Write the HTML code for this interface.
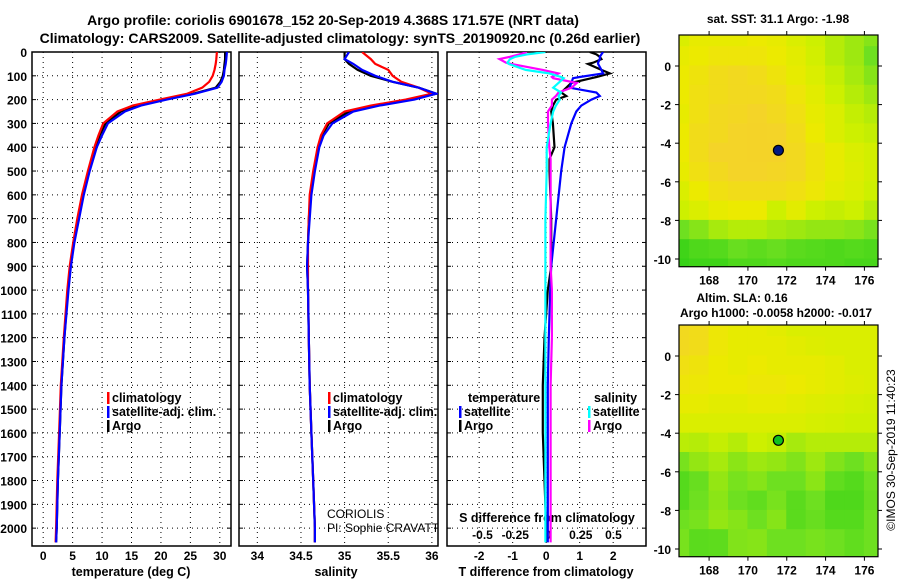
<!DOCTYPE html>
<html><head><meta charset="utf-8"><style>
html,body{margin:0;padding:0;background:#fff;}
svg{display:block;font-family:"Liberation Sans",Arial,sans-serif;}
.b{font-weight:bold;}
</style></head><body>
<svg id="fig" width="900" height="580" viewBox="0 0 900 580" xmlns="http://www.w3.org/2000/svg">
<rect width="900" height="580" fill="#fff"/>
<text class="b" x="333" y="25" font-size="14" text-anchor="middle">Argo profile: coriolis 6901678_152 20-Sep-2019 4.368S 171.57E (NRT data)</text>
<text class="b" x="340" y="43" font-size="14" text-anchor="middle">Climatology: CARS2009. Satellite-adjusted climatology: synTS_20190920.nc (0.26d earlier)</text>
<g id="g"></g>
</svg>
<script>
// ---- data ----
const depths = [0,30,50,75,100,125,150,175,200,225,250,300,350,400,500,600,700,800,900,1000,1200,1400,1600,1800,2000,2060];
const tempArgo = [30.9,30.9,30.8,30.7,30.5,30.1,29.3,25.5,20.5,16,13.2,10.6,9.6,8.8,7.7,6.7,5.9,5.2,4.6,4.2,3.6,3.1,2.8,2.5,2.3,2.2];
const tempClim = [29.5,29.4,29.3,29.1,28.8,28.2,27.0,24.5,19.8,15.2,12.6,10.2,9.4,8.7,7.6,6.6,5.8,5.1,4.5,4.1,3.5,3.0,2.7,2.4,2.2,2.1];
const tempSat  = [31.2,31.1,31.0,30.8,30.7,30.3,29.6,25.8,21.0,16.6,13.9,11.0,10.0,9.1,7.9,6.9,6.1,5.3,4.7,4.3,3.6,3.1,2.8,2.5,2.3,2.2];
const salArgo = [35.0,35.0,35.05,35.15,35.3,35.55,35.85,36.05,35.75,35.35,35.05,34.82,34.74,34.7,34.65,34.61,34.59,34.58,34.57,34.58,34.59,34.6,34.62,34.64,34.66,34.66];
const salClim = [35.2,35.3,35.35,35.5,35.55,35.65,35.85,36.0,35.7,35.3,35.0,34.8,34.73,34.69,34.64,34.6,34.59,34.58,34.58,34.58,34.59,34.6,34.62,34.64,34.66,34.66];
const salSat  = [35.05,35.0,35.1,35.2,35.35,35.55,35.85,36.05,35.8,35.4,35.1,34.86,34.76,34.71,34.66,34.62,34.6,34.58,34.57,34.58,34.59,34.6,34.62,34.64,34.66,34.66];
const diffDepths = [0,10,20,30,45,50,75,90,105,110,130,150,170,185,200,225,250,300,400,450,500,700,900,1000,1200,1400,1600,1800,2000,2060];
const tDiffArgo = [1.3,1.5,1.6,1.65,1.4,1.25,1.65,1.9,1.5,1.35,0.75,0.6,0.45,0.6,0.3,0.2,0.15,0.2,0.25,0.1,0.1,0.15,0.15,0.05,-0.05,-0.1,-0.1,-0.05,0,0];
const tDiffSat  = [1.7,1.65,1.6,1.6,1.55,1.55,1.65,1.7,1.0,0.8,0.75,0.7,1.5,1.6,1.35,1.05,0.9,0.75,0.55,0.5,0.45,0.3,0.15,0.12,0.08,0.05,0.05,0.05,0.05,0.05];
const sDiffArgo = [-0.16,-0.22,-0.29,-0.37,-0.32,-0.28,-0.04,0.08,0.03,0.04,0.22,0.18,0.08,0.06,0.03,0.03,0.0,0.0,0.01,0.02,0.02,0.02,0.02,0.03,0.03,0.02,0.02,0.02,0.02,0.02];
const sDiffSat  = [-0.02,-0.16,-0.25,-0.29,-0.31,-0.3,-0.17,0.01,0.1,0.12,0.08,0.04,0.1,0.08,0.09,0.06,0.04,0.02,-0.01,-0.01,-0.01,-0.02,-0.02,-0.02,-0.02,-0.02,-0.02,-0.02,-0.02,-0.02];
const depthTicks = [0,100,200,300,400,500,600,700,800,900,1000,1100,1200,1300,1400,1500,1600,1700,1800,1900,2000];
const tempTicks = [0,5,10,15,20,25,30];
const salTicks = [34,34.5,35,35.5,36];
const tdTicks = [-2,-1,0,1,2];
const sdTicks = [-0.5,-0.25,0,0.25,0.5];
const lonTicks = [168,170,172,174,176];
const latTicks = [0,-2,-4,-6,-8,-10];
const sstGrid = [
[0.55,0.6,0.6,0.6,0.62,0.6,0.55,0.5,0.45,0.4,0.35],
[0.6,0.62,0.65,0.65,0.65,0.62,0.58,0.52,0.45,0.4,0.3],
[0.62,0.66,0.7,0.72,0.7,0.66,0.6,0.55,0.48,0.42,0.35],
[0.62,0.68,0.7,0.72,0.72,0.7,0.65,0.58,0.5,0.45,0.4],
[0.6,0.68,0.72,0.73,0.75,0.72,0.68,0.6,0.55,0.48,0.45],
[0.62,0.7,0.72,0.75,0.76,0.75,0.7,0.62,0.55,0.5,0.48],
[0.62,0.7,0.75,0.75,0.76,0.76,0.72,0.66,0.6,0.55,0.52],
[0.6,0.68,0.72,0.75,0.75,0.74,0.72,0.66,0.6,0.56,0.52],
[0.55,0.62,0.68,0.7,0.7,0.7,0.68,0.64,0.58,0.55,0.5],
[0.5,0.55,0.6,0.62,0.62,0.5,0.58,0.5,0.48,0.5,0.45],
[0.3,0.35,0.42,0.45,0.45,0.42,0.4,0.38,0.38,0.36,0.32],
[0.15,0.2,0.22,0.28,0.25,0.28,0.24,0.22,0.2,0.22,0.2],
[0.12,0.15,0.15,0.2,0.2,0.22,0.2,0.2,0.2,0.18,0.18]];
const slaGrid = [
[0.72,0.7,0.64,0.6,0.6,0.58,0.55,0.55,0.55,0.55,0.55],
[0.72,0.7,0.64,0.6,0.6,0.6,0.58,0.56,0.55,0.55,0.55],
[0.68,0.66,0.62,0.6,0.62,0.6,0.6,0.6,0.58,0.55,0.55],
[0.65,0.64,0.62,0.62,0.64,0.64,0.62,0.6,0.58,0.56,0.55],
[0.6,0.6,0.58,0.58,0.6,0.6,0.58,0.56,0.55,0.53,0.52],
[0.55,0.55,0.55,0.55,0.55,0.55,0.55,0.53,0.52,0.5,0.5],
[0.46,0.45,0.48,0.45,0.5,0.48,0.42,0.45,0.45,0.45,0.45],
[0.32,0.38,0.42,0.36,0.4,0.38,0.34,0.4,0.34,0.3,0.35],
[0.22,0.28,0.38,0.32,0.35,0.3,0.3,0.36,0.26,0.22,0.3],
[0.22,0.3,0.36,0.3,0.26,0.32,0.24,0.3,0.2,0.2,0.28],
[0.3,0.32,0.38,0.35,0.3,0.35,0.24,0.28,0.22,0.22,0.3],
[0.32,0.24,0.25,0.34,0.35,0.3,0.3,0.32,0.3,0.26,0.3],
[0.32,0.24,0.25,0.34,0.35,0.3,0.3,0.32,0.3,0.26,0.3]];
const floatLon = 171.57, floatLat = -4.368;

// ---- helpers ----
const NS = 'http://www.w3.org/2000/svg';
const G = document.getElementById('g');
function el(tag, attrs, parent){ const e=document.createElementNS(NS,tag); for(const k in attrs) e.setAttribute(k,attrs[k]); (parent||G).appendChild(e); return e; }
function txt(x,y,s,size,anchor,bold,parent){ const t=el('text',{x:x,y:y,'font-size':size,'text-anchor':anchor||'middle','font-weight':bold===false?'normal':'bold'},parent); t.textContent=s; return t; }

const PT=52, PB=546, DMAX=2075;
const yD = d => PT + d*(PB-PT)/DMAX;
const panels = [
 {x0:32,x1:231,v0:-1.9,v1:31.9,name:'temperature-panel'},
 {x0:239,x1:438,v0:33.79,v1:36.07,name:'salinity-panel'},
 {x0:447,x1:646,v0:-2.96,v1:2.98,name:'difference-panel'}];
function xf(p){ return v => p.x0 + (v-p.v0)*(p.x1-p.x0)/(p.v1-p.v0); }
const xT = xf(panels[0]), xS = xf(panels[1]), xTD = xf(panels[2]);
const sdScale = v => 548 + v*131;

panels.forEach((p,i)=>{
  const g = el('g',{});
  
  
  depthTicks.forEach(d=>{
    el('line',{x1:p.x0,x2:p.x1,y1:yD(d),y2:yD(d),stroke:'#000','stroke-width':1,'stroke-dasharray':'1,4'},g);
    el('line',{x1:p.x0,x2:p.x0+4,y1:yD(d),y2:yD(d),stroke:'#000'},g);
    el('line',{x1:p.x1-4,x2:p.x1,y1:yD(d),y2:yD(d),stroke:'#000'},g);
  });
  const ticks = i==0?tempTicks:(i==1?salTicks:tdTicks);
  const fx = i==0?xT:(i==1?xS:xTD);
  ticks.forEach(v=>{
    el('line',{x1:fx(v),x2:fx(v),y1:PT,y2:PB,stroke:'#000','stroke-dasharray':'1,4'},g);
    const t=txt(fx(v),560,String(v),12,'middle',true,g);
    
    
  });
  el('rect',{x:p.x0,y:PT,width:p.x1-p.x0,height:PB-PT,fill:'none',stroke:'#000','stroke-width':1.5},g);
});
depthTicks.forEach(d=>{
  const t=txt(27,yD(d)+5,String(d),12,'end',true);
  
  
});
sdTicks.forEach(v=>{
  const t=txt(sdScale(v),539,String(v),12,'middle',true);
  
  
});
let lab;
lab=txt(131,576,'temperature (deg C)',12.5,'middle',true);  
lab=txt(336,576,'salinity',12.5,'middle',true);  
lab=txt(546,576,'T difference from climatology',12.5,'middle',true);  
lab=txt(547,522,'S difference from climatology',12.5,'middle',true);  

const defs = el('defs',{});
panels.forEach((p,i)=>{ const c=el('clipPath',{id:'c'+i},defs); el('rect',{x:p.x0,y:PT,width:p.x1-p.x0,height:PB-PT},c); });

function line(ds, vs, fx, color, clip, name){
  const pts = ds.map((d,k)=>fx(vs[k]).toFixed(1)+','+yD(d).toFixed(1)).join(' ');
  const pl = el('polyline',{points:pts,fill:'none',stroke:color,'stroke-width':2.2,'clip-path':'url(#'+clip+')'});
  
  
}
line(depths,tempArgo,xT,'#000','c0','temp-argo-line');
line(depths,tempClim,xT,'#f00','c0','temp-climatology-line');
line(depths,tempSat,xT,'#00f','c0','temp-satellite-line');
line(depths,salArgo,xS,'#000','c1','salinity-argo-line');
line(depths,salClim,xS,'#f00','c1','salinity-climatology-line');
line(depths,salSat,xS,'#00f','c1','salinity-satellite-line');
line(diffDepths,tDiffArgo,xTD,'#000','c2','t-diff-argo-line');
line(diffDepths,tDiffSat,xTD,'#00f','c2','t-diff-satellite-line');
line(diffDepths,sDiffArgo,sdScale,'#f0f','c2','s-diff-argo-line');
line(diffDepths,sDiffSat,sdScale,'#0ff','c2','s-diff-satellite-line');

function legend(x,y,color,label,name){
  const g=el('g',{});
  
  
  el('rect',{x:x,y:y-10,width:2.5,height:12,fill:color},g);
  txt(x+5,y,label,12.5,'start',true,g);
}
legend(107,402,'#f00','climatology','legend-climatology');
legend(107,416,'#00f','satellite-adj. clim.','legend-satellite-adj');
legend(107,430,'#000','Argo','legend-argo');
legend(328,402,'#f00','climatology','legend-sal-climatology');
legend(328,416,'#00f','satellite-adj. clim.','legend-sal-satellite-adj');
legend(328,430,'#000','Argo','legend-sal-argo');
lab=txt(468,402,'temperature',12.5,'start',true);  
legend(459,416,'#00f','satellite','legend-t-satellite');
legend(459,430,'#000','Argo','legend-t-argo');
lab=txt(594,402,'salinity',12.5,'start',true);  
legend(588,416,'#0ff','satellite','legend-s-satellite');
legend(588,430,'#f0f','Argo','legend-s-argo');
const c1x=el('clipPath',{id:'c1x'},defs); el('rect',{x:239,y:0,width:199,height:580},c1x);
const cg = el('g',{'clip-path':'url(#c1x)'});
lab=txt(327,518,'CORIOLIS',12,'start',false,cg);  
lab=txt(327,532,'PI: Sophie CRAVATTE',12,'start',false,cg);  

// ---- maps ----
const stops=[[0,[16,200,16]],[0.3,[110,224,32]],[0.5,[205,240,0]],[0.62,[236,234,0]],[0.75,[244,212,40]],[1,[242,176,40]]];
function cmap(v){
  for(let i=1;i<stops.length;i++){ if(v<=stops[i][0]){ const a=stops[i-1],b=stops[i]; const t=(v-a[0])/(b[0]-a[0]); const c=a[1].map((q,k)=>Math.round(q+(b[1][k]-q)*t)); return 'rgb('+c.join(',')+')'; } }
  return 'rgb(242,176,40)';
}
const MX0=679, MX1=878, LON0=166.45, LON1=176.7;
const xLon = lon => MX0 + (lon-LON0)*(MX1-MX0)/(LON1-LON0);
function drawMap(grid, top, lat0px, name, markerColor){
  const yLat = lat => lat0px - lat*19.3;
  const bottom = yLat(-10.4);
  const g=el('g',{});
  
  
  const cid='m'+name; const cp=el('clipPath',{id:cid},defs); el('rect',{x:MX0,y:top,width:MX1-MX0,height:bottom-top},cp);
  const cells=el('g',{'clip-path':'url(#'+cid+')'},g);
  grid.forEach((row,r)=>row.forEach((v,c)=>{
    const lat=2-r, lon=166.5+c;
    const cell=el('rect',{x:xLon(lon-0.5)-0.5,y:yLat(lat)-0.5,width:(MX1-MX0)/(LON1-LON0)+1,height:19.3+1,fill:cmap(v)},cells);
    
    
  }));
  el('rect',{x:MX0,y:top,width:MX1-MX0,height:bottom-top,fill:'none',stroke:'#000','stroke-width':1.2},g);
  latTicks.forEach(l=>{
    el('line',{x1:MX0-4,x2:MX0,y1:yLat(l),y2:yLat(l),stroke:'#000'},g);
    el('line',{x1:MX1,x2:MX1+4,y1:yLat(l),y2:yLat(l),stroke:'#000'},g);
    txt(MX0-8,yLat(l)+5,String(l),12,'end',true,g);
  });
  lonTicks.forEach(l=>{
    el('line',{x1:xLon(l),x2:xLon(l),y1:bottom,y2:bottom+4,stroke:'#000'},g);
    el('line',{x1:xLon(l),x2:xLon(l),y1:top-4,y2:top,stroke:'#000'},g);
    txt(xLon(l),bottom+18,String(l),12,'middle',true,g);
  });
  const m=el('circle',{cx:xLon(floatLon),cy:yLat(floatLat),r:5,fill:markerColor,stroke:'#000','stroke-width':1.2},g);
  
  
}
drawMap(sstGrid,35,66,'sst-map','#001a80');
drawMap(slaGrid,325,356,'sla-map','#10c020');
lab=txt(778,23,'sat. SST: 31.1 Argo: -1.98',12,'middle',true);  
lab=txt(742,302,'Altim. SLA: 0.16',12,'middle',true);  
lab=txt(776,317,'Argo h1000: -0.0058 h2000: -0.017',12,'middle',true);  
lab=txt(0,0,'©IMOS 30-Sep-2019 11:40:23',12,'middle',false);
lab.setAttribute('transform','translate(895,450) rotate(-90)');


</script>
</body></html>
